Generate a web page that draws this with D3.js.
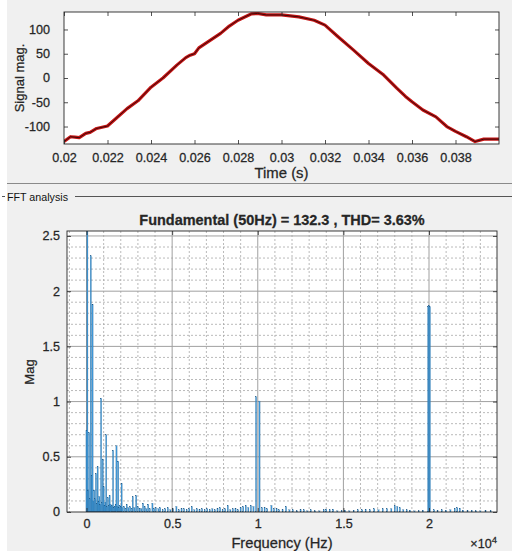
<!DOCTYPE html>
<html><head><meta charset="utf-8">
<script src="https://cdn.jsdelivr.net/npm/d3@7"></script>
<style>
html,body{margin:0;padding:0;background:#fff;}
svg{display:block;}
text{font-family:"Liberation Sans",Arial,sans-serif;fill:#262626;stroke:#262626;stroke-width:0.25px;}
</style></head><body>
<svg id="fig" width="512" height="551"></svg>
<script>
// ---- Time-domain signal (one cycle, 50 Hz) ----
const timeS = [0.0200,0.0203,0.0205,0.0207,0.0210,0.0212,0.0215,0.0220,0.0224,0.0229,0.0234,0.0240,0.02455,0.0252,0.0256,0.0258,0.0260,0.0262,0.0267,0.0272,0.0276,0.0280,0.0286,0.0289,0.0293,0.0300,0.0304,0.0308,0.0315,0.0320,0.0326,0.0333,0.0340,0.0347,0.0353,0.0357,0.0360,0.0365,0.0371,0.0376,0.0380,0.0385,0.0389,0.0393,0.0400];
const signalMag = [-131,-121,-122,-123,-114,-112,-104,-99,-83,-63,-47,-19,0,27,42,47,50,62,77,92,107,119,132,133,130,130,128,126,119,109,85,58,30,6,-21,-38,-49,-66,-80,-100,-110,-121,-131,-126,-126];
const timeTicks = [0.02,0.022,0.024,0.026,0.028,0.03,0.032,0.034,0.036,0.038];
const timeTickLabels = ["0.02","0.022","0.024","0.026","0.028","0.03","0.032","0.034","0.036","0.038"];
const signalTicks = [-100,-50,0,50,100];
const signalTickLabels = ["-100","-50","0","50","100"];

// ---- Harmonic spectrum ----
const fundamentalHz = 50, fundamentalMag = 132.3, thdPct = 3.63;
const freqHz = [0,50,100,150,200,250,300,350,400,450,500,550,600,650,700,750,800,850,900,950,1000,1050,1100,1150,1200,1250,1300,1350,1400,1450,1500,1550,1600,1650,1700,1750,1800,1850,1900,1950,2000,2050,2100,2200,2300,2350,2450,2550,2650,2700,2800,2900,3000,3100,3200,3300,3400,3500,3600,3700,3850,3950,4050,4200,4300,4450,4600,4750,4900,5050,5250,5400,5550,5700,5850,6000,6150,6300,6450,6600,6750,6900,7050,7200,7350,7500,7650,7800,7950,8100,8250,8400,8550,8700,8850,9000,9150,9300,9450,9600,9750,9900,10100,10250,10400,10550,10800,10950,11100,11250,11450,11650,11850,12050,12300,12500,12700,12900,13100,13350,13600,13850,14000,14200,14400,14650,14900,15100,15350,15600,15850,16100,16300,16550,16800,17050,17300,17550,17800,18000,18150,18300,18500,18700,18900,19150,19400,19650,19950,20000,20050,20300,20500,20750,21000,21250,21500,21650,21800,22000,22250,22500,22750,23000,23300,23600];
const specMag = [0.74,132.3,0.20,0.72,0.12,2.32,0.33,1.88,0.10,0.20,0.12,0.35,0.08,0.41,0.10,0.14,0.07,1.03,0.09,0.48,0.23,0.06,0.09,0.70,0.05,0.13,0.06,0.15,0.07,0.05,0.06,0.56,0.04,0.05,0.07,0.60,0.05,0.46,0.04,0.06,0.05,0.26,0.04,0.05,0.03,0.07,0.04,0.05,0.03,0.14,0.04,0.15,0.05,0.03,0.03,0.08,0.05,0.03,0.07,0.03,0.08,0.03,0.04,0.03,0.04,0.02,0.03,0.04,0.02,0.03,0.05,0.02,0.03,0.03,0.02,0.03,0.05,0.02,0.03,0.02,0.03,0.02,0.03,0.02,0.03,0.02,0.03,0.04,0.02,0.03,0.06,0.02,0.03,0.03,0.02,0.04,0.05,0.06,0.04,0.06,0.05,1.045,1.005,0.04,0.04,0.03,0.06,0.03,0.03,0.02,0.02,0.05,0.02,0.02,0.01,0.02,0.02,0.01,0.02,0.01,0.01,0.02,0.025,0.02,0.025,0.01,0.01,0.015,0.01,0.015,0.02,0.02,0.025,0.02,0.03,0.02,0.03,0.03,0.03,0.06,0.05,0.04,0.02,0.02,0.015,0.01,0.01,0.015,1.86,1.87,1.86,0.02,0.01,0.02,0.015,0.02,0.035,0.04,0.035,0.015,0.01,0.015,0.01,0.01,0.01,0.01];
const freqTicks = [0,5000,10000,15000,20000];
const freqTickLabels = ["0","0.5","1","1.5","2"];
const magTicks = [0,0.5,1,1.5,2,2.5];
const magTickLabels = ["0","0.5","1","1.5","2","2.5"];
const freqMinor = d3.range(-1000,24000,1000).filter(f => f % 5000 !== 0);
const magMinor = d3.range(1,26).map(i => i/10).filter(v => Math.round(v*10) % 5 !== 0);

const svg = d3.select("#fig");
const AX = "#262626", SX = 1.05;

// figure / panel background
svg.append("rect").attr("x",7).attr("y",0).attr("width",505).attr("height",551).attr("fill","#f0f0f0");
svg.append("line").attr("x1",7).attr("x2",512).attr("y1",183.5).attr("y2",183.5).attr("stroke","#8a8a8a").attr("stroke-width",1.2);
svg.append("line").attr("x1",2).attr("x2",5).attr("y1",196.5).attr("y2",196.5).attr("stroke","#555");
svg.append("line").attr("x1",75).attr("x2",512).attr("y1",196.5).attr("y2",196.5).attr("stroke","#555");
svg.append("text").attr("transform",`translate(7,200.5) scale(${SX},1)`).style("font-size","10.2px").style("fill","#111").style("stroke","none").text("FFT analysis");

function hText(x, y, str, size, anchor, weight) {
  return svg.append("text").attr("transform",`translate(${x},${y}) scale(${SX},1)`)
    .attr("text-anchor",anchor||"middle").style("font-size",size+"px").style("font-weight",weight||"normal").text(str);
}
function vText(x, y, str, size) {
  return svg.append("text").attr("transform",`translate(${x},${y}) scale(${SX},1) rotate(-90)`)
    .attr("text-anchor","middle").style("font-size",size+"px").text(str);
}
function styleAxis(g, showText) {
  g.attr("font-family",null).attr("font-size",null).attr("color",AX);
  g.select(".domain").remove();
  g.selectAll(".tick line").attr("stroke-width",0.8);
  if (!showText) g.selectAll("text").remove();
}

// ---------- Signal plot ----------
const xT = d3.scaleLinear([0.02,0.04],[64,499]);
const yT = d3.scaleLinear([-136,136],[144,12]);
svg.append("rect").attr("x",64).attr("y",12).attr("width",435).attr("height",132).attr("fill","#fff");
svg.append("clipPath").attr("id","clipT").append("rect").attr("x",64).attr("y",12).attr("width",435).attr("height",132);
const sig = timeS.map((t,i)=>[t,signalMag[i]]);
const sigLine = d3.line().x(d=>xT(d[0])).y(d=>yT(d[1]));
const gT = svg.append("g").attr("clip-path","url(#clipT)");
gT.append("path").datum(sig).attr("d",sigLine).attr("fill","none").attr("stroke","#c41414").attr("stroke-width",3.2).attr("stroke-linejoin","round");
gT.append("path").datum(sig).attr("d",sigLine).attr("fill","none").attr("stroke","#2a0808").attr("stroke-width",0.9);

let g = svg.append("g").attr("transform","translate(0,144)").call(d3.axisBottom(xT).tickValues(timeTicks).tickFormat((d,i)=>timeTickLabels[i]).tickSize(-4));
styleAxis(g,true);
g.selectAll("text").attr("y",18).attr("dy",null).attr("transform",`scale(${SX},1)`).style("font-size","12px");
styleAxis(svg.append("g").attr("transform","translate(0,12)").call(d3.axisTop(xT).tickValues(timeTicks).tickSize(-4)),false);
g = svg.append("g").attr("transform","translate(64,0)").call(d3.axisLeft(yT).tickValues(signalTicks).tickFormat((d,i)=>signalTickLabels[i]).tickSize(-4));
styleAxis(g,true);
g.selectAll("text").attr("x",-14/SX).attr("transform",`scale(${SX},1)`).style("font-size","12px");
styleAxis(svg.append("g").attr("transform","translate(499,0)").call(d3.axisRight(yT).tickValues(signalTicks).tickSize(-4)),false);
svg.append("rect").attr("x",64).attr("y",12).attr("width",435).attr("height",132).attr("fill","none").attr("stroke",AX).attr("stroke-width",0.9);
hText(281.5,177.5,"Time (s)",14.2);
vText(24,78,"Signal mag.",13);

// ---------- Spectrum plot ----------
const xF = d3.scaleLinear([-1140,23970],[67,497]);
const yF = d3.scaleLinear([0,2.545],[512,231]);
svg.append("rect").attr("x",67).attr("y",231).attr("width",430).attr("height",281).attr("fill","#fff");
const grid = svg.append("g");
grid.selectAll(".mx").data(freqMinor).join("line").attr("x1",d=>xF(d)).attr("x2",d=>xF(d)).attr("y1",231).attr("y2",512)
  .attr("stroke","#a8a8a8").attr("stroke-width",0.8).attr("stroke-dasharray","2,2");
grid.selectAll(".my").data(magMinor).join("line").attr("x1",67).attr("x2",497).attr("y1",d=>yF(d)).attr("y2",d=>yF(d))
  .attr("stroke","#a8a8a8").attr("stroke-width",0.8).attr("stroke-dasharray","2,2");
grid.selectAll(".Mx").data(freqTicks).join("line").attr("x1",d=>xF(d)).attr("x2",d=>xF(d)).attr("y1",231).attr("y2",512)
  .attr("stroke","#a0a0a0").attr("stroke-width",1);
grid.selectAll(".My").data(magTicks.slice(1)).join("line").attr("x1",67).attr("x2",497).attr("y1",d=>yF(d)).attr("y2",d=>yF(d))
  .attr("stroke","#a0a0a0").attr("stroke-width",1);

svg.append("clipPath").attr("id","clipF").append("rect").attr("x",67).attr("y",231).attr("width",430).attr("height",281);
const barW = xF(70) - xF(0);
svg.append("g").attr("clip-path","url(#clipF)").selectAll("rect").data(freqHz.map((f,i)=>[f,specMag[i]])).join("rect")
  .attr("x",d=>xF(d[0]) - barW/2).attr("width",barW)
  .attr("y",d=>yF(d[1])).attr("height",d=>yF(0)-yF(d[1]))
  .attr("fill","#3f98d8").attr("stroke","#1b5584").attr("stroke-width",0.2);

g = svg.append("g").attr("transform","translate(0,512)").call(d3.axisBottom(xF).tickValues(freqTicks).tickFormat((d,i)=>freqTickLabels[i]).tickSize(-4));
styleAxis(g,true);
g.selectAll("text").attr("y",16.5).attr("dy",null).attr("transform",`scale(${SX},1)`).style("font-size","12px");
styleAxis(svg.append("g").attr("transform","translate(0,231)").call(d3.axisTop(xF).tickValues(freqTicks).tickSize(-4)),false);
g = svg.append("g").attr("transform","translate(67,0)").call(d3.axisLeft(yF).tickValues(magTicks).tickFormat((d,i)=>magTickLabels[i]).tickSize(-4));
styleAxis(g,true);
g.selectAll("text").attr("x",-7/SX).attr("transform",`scale(${SX},1)`).style("font-size","12px");
styleAxis(svg.append("g").attr("transform","translate(497,0)").call(d3.axisRight(yF).tickValues(magTicks).tickSize(-4)),false);
svg.append("rect").attr("x",67).attr("y",231).attr("width",430).attr("height",281).attr("fill","none").attr("stroke",AX).attr("stroke-width",0.9);

hText(282,224.5,`Fundamental (${fundamentalHz}Hz) = ${fundamentalMag} , THD= ${thdPct}%`,13.8,"middle","bold");
hText(282,547.5,"Frequency (Hz)",14);
vText(34,372,"Mag",13);
const ex = hText(497,548,"",12,"end");
ex.append("tspan").text("×10");
ex.append("tspan").attr("dy",-5).style("font-size","9px").text("4");
</script>
</body></html>
